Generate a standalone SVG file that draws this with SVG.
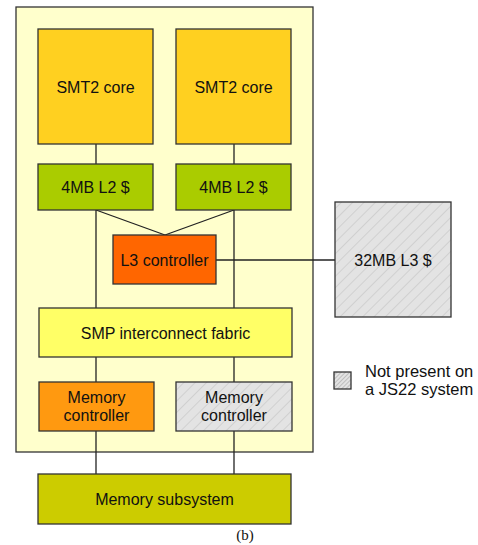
<svg xmlns="http://www.w3.org/2000/svg" width="478" height="545" viewBox="0 0 478 545">
<style>
.box{stroke:#333;stroke-width:1.3}
.t{font-family:"Liberation Sans",Arial,sans-serif;font-size:16px;fill:#111;text-anchor:middle}
.lg{font-family:"Liberation Sans",Arial,sans-serif;font-size:16.5px;fill:#111}
.cap{font-family:"Liberation Serif","Times New Roman",serif;font-size:15px;fill:#111;text-anchor:middle}
.c{stroke:#222;stroke-width:1.3;fill:none}
</style>
<defs>
<pattern id="hatch" patternUnits="userSpaceOnUse" width="8" height="8" patternTransform="rotate(45)">
<rect width="8" height="8" fill="#e3e3e3"/>
<line x1="0" y1="0" x2="0" y2="8" stroke="#bdbdbd" stroke-width="1"/>
</pattern>
<pattern id="hatch2" patternUnits="userSpaceOnUse" width="3" height="3" patternTransform="rotate(45)">
<rect width="3" height="3" fill="#e3e3e3"/>
<line x1="0" y1="0" x2="0" y2="3" stroke="#999" stroke-width="1"/>
</pattern>
</defs>
<rect width="478" height="545" fill="#fff"/>
<g id="chip"><rect class="box" x="16" y="7" width="297" height="445" fill="#ffffcc"/></g>
<g id="connectors">
<line class="c" x1="96" y1="144" x2="96" y2="164"/>
<line class="c" x1="234" y1="144" x2="234" y2="164"/>
<line class="c" x1="96" y1="210" x2="165" y2="235"/>
<line class="c" x1="234" y1="210" x2="165" y2="235"/>
<line class="c" x1="96" y1="210" x2="96" y2="308"/>
<line class="c" x1="234" y1="210" x2="234" y2="308"/>
<line class="c" x1="216" y1="260" x2="335" y2="260"/>
<line class="c" x1="96" y1="357" x2="96" y2="382"/>
<line class="c" x1="234" y1="357" x2="234" y2="382"/>
<line class="c" x1="96" y1="431" x2="96" y2="474"/>
<line class="c" x1="234" y1="431" x2="234" y2="474"/>
</g>
<g id="core1"><rect class="box" x="38" y="29" width="115" height="115" fill="#ffd020"/><text class="t" x="95.5" y="93">SMT2 core</text></g>
<g id="core2"><rect class="box" x="176" y="29" width="115" height="115" fill="#ffd020"/><text class="t" x="233.5" y="93">SMT2 core</text></g>
<g id="l2a"><rect class="box" x="38" y="164" width="115" height="46" fill="#aacc00"/><text class="t" x="95.5" y="193">4MB L2 $</text></g>
<g id="l2b"><rect class="box" x="176" y="164" width="115" height="46" fill="#aacc00"/><text class="t" x="233.5" y="193">4MB L2 $</text></g>
<g id="l3ctrl"><rect class="box" x="113" y="235" width="103" height="49" fill="#ff6600"/><text class="t" x="164.5" y="266">L3 controller</text></g>
<g id="l3"><rect class="box" x="335" y="202" width="116" height="115" fill="url(#hatch)"/><text class="t" x="393" y="266">32MB L3 $</text></g>
<g id="smp"><rect class="box" x="39" y="308" width="253" height="49" fill="#ffff66"/><text class="t" x="165.5" y="339">SMP interconnect fabric</text></g>
<g id="mc1"><rect class="box" x="39" y="382" width="115" height="49" fill="#ff9910"/><text class="t" x="96.5" y="403">Memory</text><text class="t" x="96.5" y="421">controller</text></g>
<g id="mc2"><rect class="box" x="176" y="382" width="116" height="49" fill="url(#hatch)"/><text class="t" x="234" y="403">Memory</text><text class="t" x="234" y="421">controller</text></g>
<g id="memsub"><rect class="box" x="38" y="474" width="253" height="50" fill="#cccc00"/><text class="t" x="164.5" y="505">Memory subsystem</text></g>
<g id="legend"><rect class="box" x="334" y="372" width="17" height="17" fill="url(#hatch2)"/><text class="lg" x="365" y="377">Not present on</text><text class="lg" x="365" y="395">a JS22 system</text></g>
<text class="cap" x="245" y="540">(b)</text>
</svg>
